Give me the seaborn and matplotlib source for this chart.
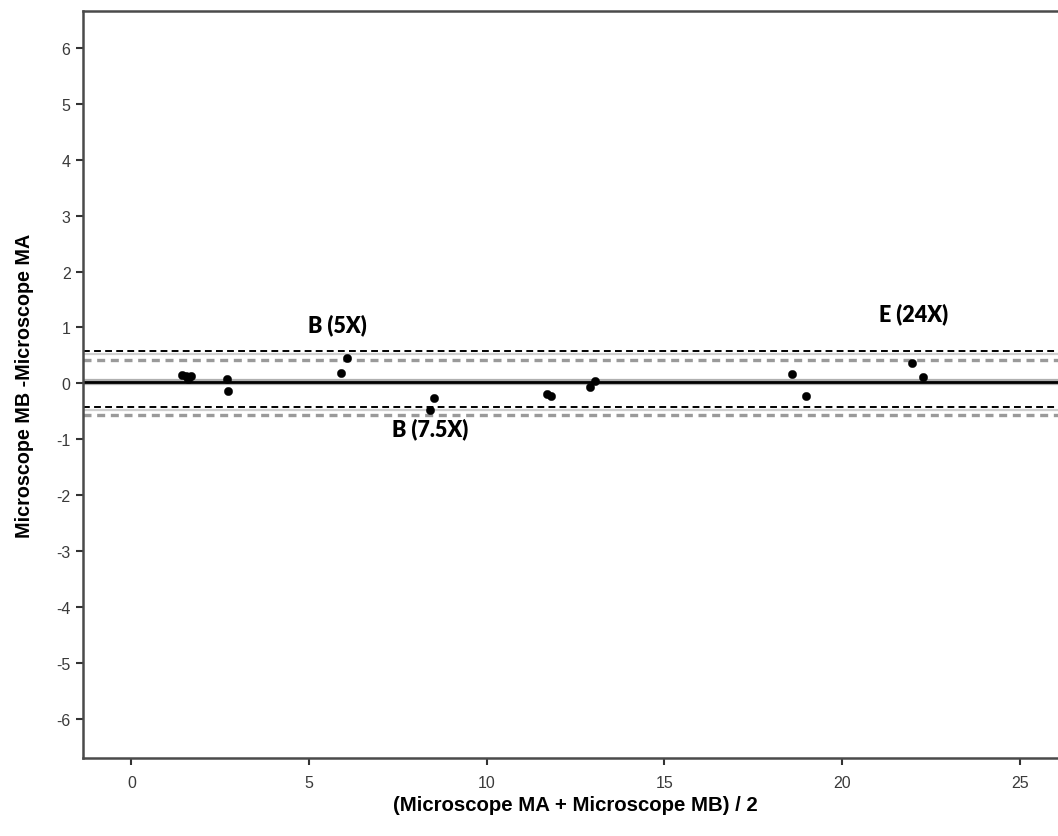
import matplotlib
matplotlib.use("Agg")
import matplotlib.pyplot as plt
import seaborn as sns
import pandas as pd

# Bland-Altman data: mean of the two microscopes vs. their difference
mean_ab = [1.42, 1.53, 1.60, 1.68, 2.69, 2.72, 5.89, 6.06, 8.40, 8.52,
           11.71, 11.81, 12.90, 13.06, 18.60, 18.99, 21.97, 22.29]
diff_ba = [0.15, 0.13, 0.08, 0.14, 0.07, -0.14, 0.19, 0.45, -0.48, -0.26,
           -0.19, -0.22, -0.06, 0.04, 0.17, -0.22, 0.36, 0.12]

bias = 0.03
upper_loa = 0.53
upper_ci = [0.42, 0.58]
lower_loa = -0.47
lower_ci = [-0.57, -0.42]

annot_text = ["B (5X)", "B (7.5X)", "E (24X)"]
annot_x = [5.8, 8.4, 22.0]
annot_y = [1.05, -0.8, 1.25]

x_ticks = [0, 5, 10, 15, 20, 25]
y_ticks = [-6, -5, -4, -3, -2, -1, 0, 1, 2, 3, 4, 5, 6]

df = pd.DataFrame({"mean": mean_ab, "diff": diff_ba})

sns.set_theme(style="white")
plt.rcParams["font.family"] = ["Liberation Sans", "DejaVu Sans"]
plt.rcParams["axes.unicode_minus"] = False

fig = plt.figure(figsize=(10.58, 8.37), dpi=100)
ax = fig.add_axes([0.0785, 0.0932, 0.93, 0.8925])

# bias line with a soft grey halo
ax.axhline(bias, color="#b0b0b0", lw=4.5, zorder=1)
ax.axhline(bias, color="black", lw=2.0, zorder=2)

# limits of agreement (thin grey) with their confidence bounds
for loa, (lo, hi) in [(upper_loa, upper_ci), (lower_loa, lower_ci)]:
    ax.axhline(loa, color="#cfcfcf", lw=1.6, zorder=1)
    ax.axhline(hi, color="black", lw=1.4, dashes=(3.5, 2.2), zorder=2)
    ax.axhline(lo, color="#9a9a9a", lw=2.4, dashes=(2.4, 1.7), zorder=2)

sns.scatterplot(data=df, x="mean", y="diff", ax=ax, color="black",
                s=36, edgecolor="black", linewidth=0.3, zorder=3, legend=False)

for t, x, y in zip(annot_text, annot_x, annot_y):
    ax.text(x, y, t, ha="center", va="center", fontsize=15.5,
            fontweight="heavy", family=["Lato", "DejaVu Sans"], color="black")

ax.set_xlim(-1.36, 26.33)
ax.set_ylim(-6.70, 6.66)
ax.set_xticks(x_ticks)
ax.set_yticks(y_ticks)
ax.tick_params(axis="both", direction="out", length=5, width=1.5,
               color="#333333", labelsize=11.5, labelcolor="#3a3a3a",
               bottom=True, left=True)
ax.tick_params(axis="x", pad=7)
ax.tick_params(axis="y", pad=4)

for side in ["left", "bottom", "top"]:
    ax.spines[side].set_color("#4a4a4a")
    ax.spines[side].set_linewidth(1.8)
ax.spines["right"].set_visible(False)

ax.set_xlabel("(Microscope MA + Microscope MB) / 2", fontsize=14.7,
              fontweight="bold", labelpad=4, color="black")
ax.set_ylabel("Microscope MB -Microscope MA", fontsize=14.2,
              fontweight="bold", labelpad=16, color="black")

fig.savefig("out.png", dpi=100)
